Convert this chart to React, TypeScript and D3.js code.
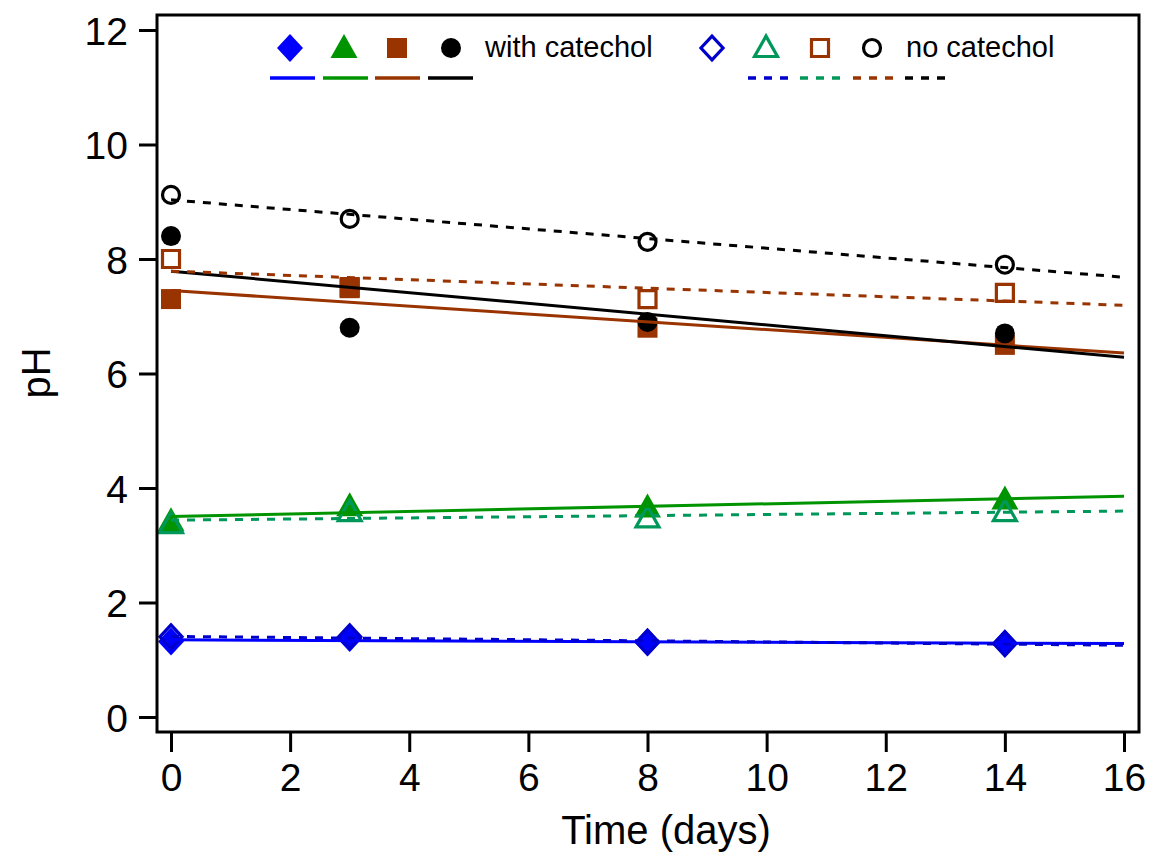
import React, { useEffect, useRef } from "react";
import * as d3 from "d3";

// sampling days
const days = [0, 3, 8, 14];

// with catechol (filled symbols, solid fits)
const blueWith = [1.32, 1.38, 1.3, 1.29];
const greenWith = [3.42, 3.68, 3.66, 3.8];
const brownWith = [7.3, 7.49, 6.8, 6.5];
const blackWith = [8.4, 6.8, 6.9, 6.7];

// no catechol (open symbols, dashed fits)
const blueNo = [1.4, 1.4, 1.31, 1.28];
const greenNo = [3.37, 3.58, 3.47, 3.58];
const brownNo = [8.0, 7.51, 7.3, 7.41];
const blackNo = [9.12, 8.7, 8.3, 7.9];

const xTicks = [0, 2, 4, 6, 8, 10, 12, 14, 16];
const yTicks = [0, 2, 4, 6, 8, 10, 12];

type Shape = "diamond" | "triangle" | "square" | "circle";

const series = [
  { values: blueWith, shape: "diamond", color: "#0000ff", open: false },
  { values: greenWith, shape: "triangle", color: "#009400", open: false },
  { values: brownWith, shape: "square", color: "#993300", open: false },
  { values: blackWith, shape: "circle", color: "#000000", open: false },
  { values: blueNo, shape: "diamond", color: "#0000cc", open: true },
  { values: greenNo, shape: "triangle", color: "#00985a", open: true },
  { values: brownNo, shape: "square", color: "#993300", open: true },
  { values: blackNo, shape: "circle", color: "#000000", open: true },
];

const FONT = "'Liberation Sans', Arial, Helvetica, sans-serif";

// marker outline centred on 0,0
function shapePath(shape: Shape, open: boolean) {
  const s = open ? 0.85 : 1;
  if (shape === "diamond") {
    const w = 13 * s, h = 14 * s;
    return `M0,${-h}L${w},0L0,${h}L${-w},0Z`;
  }
  if (shape === "triangle") {
    const w = 13.5 * s;
    return `M0,${-14 * s}L${w},${10 * s}L${-w},${10 * s}Z`;
  }
  if (shape === "square") {
    const h = 10 * s;
    return `M${-h},${-h}H${h}V${h}H${-h}Z`;
  }
  const r = open ? 8.5 : 10;
  return `M${r},0A${r},${r},0,1,1,${-r},0A${r},${r},0,1,1,${r},0Z`;
}

// least squares line through the points
function fit(xs: number[], ys: number[]) {
  const mx = d3.mean(xs) as number;
  const my = d3.mean(ys) as number;
  let sxy = 0, sxx = 0;
  xs.forEach((x, i) => {
    sxy += (x - mx) * (ys[i] - my);
    sxx += (x - mx) * (x - mx);
  });
  const slope = sxy / sxx;
  return (x: number) => my + slope * (x - mx);
}

export default function App() {
  const svgRef = useRef<SVGSVGElement>(null);

  useEffect(() => {
    const width = 1153;
    const height = 855;
    const svg = d3.select(svgRef.current);
    svg.selectAll("*").remove();
    svg.attr("width", width).attr("height", height);

    const x = d3.scaleLinear().domain([0, 16]).range([171, 1124]);
    const y = d3.scaleLinear().domain([0, 12]).range([717, 30]);
    const frame = { left: 157, right: 1139, top: 15, bottom: 732 };

    // markers first, fit lines go over them
    series.forEach((s) => {
      svg
        .append("g")
        .selectAll("path")
        .data(s.values)
        .join("path")
        .attr("transform", (d, i) => `translate(${x(days[i])},${y(d)})`)
        .attr("d", shapePath(s.shape as Shape, s.open))
        .attr("fill", s.open ? "none" : s.color)
        .attr("stroke", s.open ? s.color : "none")
        .attr("stroke-width", 3.2);
    });

    series.forEach((s) => {
      const f = fit(days, s.values);
      svg
        .append("path")
        .datum([0, 16])
        .attr(
          "d",
          d3
            .line<number>()
            .x((d) => x(d))
            .y((d) => y(f(d)))
        )
        .attr("fill", "none")
        .attr("stroke", s.color)
        .attr("stroke-width", 3)
        .attr("stroke-dasharray", s.open ? "8,8" : null);
    });

    // frame
    svg
      .append("rect")
      .attr("x", frame.left)
      .attr("y", frame.top)
      .attr("width", frame.right - frame.left)
      .attr("height", frame.bottom - frame.top)
      .attr("fill", "none")
      .attr("stroke", "#000")
      .attr("stroke-width", 3);

    // y axis
    const yAxis = svg
      .append("g")
      .attr("transform", `translate(${frame.left},0)`)
      .call(d3.axisLeft(y).tickValues(yTicks).tickSize(18).tickPadding(11));
    yAxis.select(".domain").remove();
    yAxis.selectAll("line").attr("stroke-width", 3);
    yAxis
      .selectAll("text")
      .attr("font-family", FONT)
      .attr("font-size", 39)
      .attr("dy", "0.36em")
      .attr("fill", "#000");

    // x axis
    const xAxis = svg
      .append("g")
      .attr("transform", `translate(0,${frame.bottom})`)
      .call(d3.axisBottom(x).tickValues(xTicks).tickSize(20).tickPadding(11));
    xAxis.select(".domain").remove();
    xAxis.selectAll("line").attr("stroke-width", 3);
    xAxis
      .selectAll("text")
      .attr("font-family", FONT)
      .attr("font-size", 39)
      .attr("fill", "#000");

    svg
      .append("text")
      .attr("x", 666)
      .attr("y", 844)
      .attr("text-anchor", "middle")
      .attr("font-family", FONT)
      .attr("font-size", 40)
      .text("Time (days)");

    svg
      .append("text")
      .attr("transform", `translate(50,373) rotate(-90)`)
      .attr("text-anchor", "middle")
      .attr("font-family", FONT)
      .attr("font-size", 40)
      .text("pH");

    // legend
    const legendX = [290, 344, 397, 451, 712, 766, 820, 872];
    const lineX = [270, 323, 375, 428, 748, 800, 853, 905];
    series.forEach((s, i) => {
      svg
        .append("path")
        .attr("transform", `translate(${legendX[i]},48)`)
        .attr("d", shapePath(s.shape as Shape, s.open))
        .attr("fill", s.open ? "none" : s.color)
        .attr("stroke", s.open ? s.color : "none")
        .attr("stroke-width", 3.2);
      svg
        .append("line")
        .attr("x1", lineX[i])
        .attr("x2", lineX[i] + (s.open ? 40 : 45))
        .attr("y1", 78)
        .attr("y2", 78)
        .attr("stroke", s.color)
        .attr("stroke-width", 3.5)
        .attr("stroke-dasharray", s.open ? "8,8" : null);
    });
    svg
      .append("text")
      .attr("x", 485)
      .attr("y", 57)
      .attr("font-family", FONT)
      .attr("font-size", 29)
      .text("with catechol");
    svg
      .append("text")
      .attr("x", 906)
      .attr("y", 57)
      .attr("font-family", FONT)
      .attr("font-size", 29)
      .text("no catechol");
  }, []);

  return (
    <svg
      ref={svgRef}
      style={{ position: "absolute", left: 0, top: 0, background: "#fff" }}
    />
  );
}
